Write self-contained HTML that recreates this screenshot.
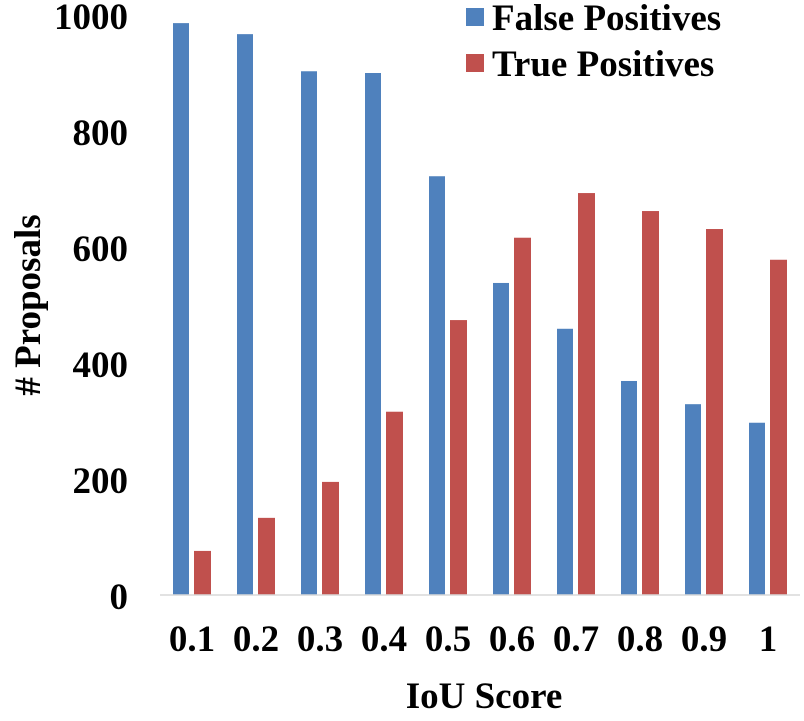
<!DOCTYPE html>
<html><head><meta charset="utf-8"><style>
body{margin:0;background:#fff;}
svg text{font-family:"Liberation Serif",serif;font-weight:bold;fill:#000;}
</style></head><body>
<svg id="chart" width="804" height="716" xmlns="http://www.w3.org/2000/svg">
<g id="bars"></g>
<line x1="160" y1="595" x2="800" y2="595" stroke="#d9d9d9" stroke-width="1.5"/>
<g id="yticks"></g><g id="xticks"></g>
<text x="484" y="708" font-size="37" text-anchor="middle">IoU Score</text>
<text transform="translate(40,305) rotate(-90)" font-size="37" text-anchor="middle"># Proposals</text>
<g>
<rect x="466" y="8" width="18" height="18" fill="#4f81bd"/>
<text x="492" y="30" font-size="37">False Positives</text>
<rect x="466" y="54" width="18" height="18" fill="#c0504d"/>
<text x="492" y="76" font-size="37">True Positives</text>
</g>
</svg>
<script>
const categories=["0.1","0.2","0.3","0.4","0.5","0.6","0.7","0.8","0.9","1"];
const falsePositives=[986,967,903,900,722,538,459,369,329,297];
const truePositives=[76,133,195,316,474,616,693,662,631,578];
const yTicks=[0,200,400,600,800,1000];
const NS="http://www.w3.org/2000/svg";
function y(v){return 595-v*0.58;}
function xc(i){return 192+i*64;}
const bars=document.getElementById('bars');
function mk(tag,attrs,parent){const e=document.createElementNS(NS,tag);for(const k in attrs)e.setAttribute(k,attrs[k]);parent.appendChild(e);return e;}
categories.forEach((c,i)=>{
  const b=mk('rect',{x:xc(i)-19,y:y(falsePositives[i]),width:16,height:595-y(falsePositives[i]),fill:'#4f81bd'},bars);
  
  
  const r=mk('rect',{x:xc(i)+2,y:y(truePositives[i]),width:17,height:595-y(truePositives[i]),fill:'#c0504d'},bars);
  
  
  const t=mk('text',{x:xc(i),y:651,'font-size':37,'text-anchor':'middle'},document.getElementById('xticks'));
  t.textContent=c;
  
  
});
yTicks.forEach(v=>{
  const t=mk('text',{x:128,y:y(v)+14,'font-size':37,'text-anchor':'end'},document.getElementById('yticks'));
  t.textContent=v;
  
  
});
</script>
</body></html>
